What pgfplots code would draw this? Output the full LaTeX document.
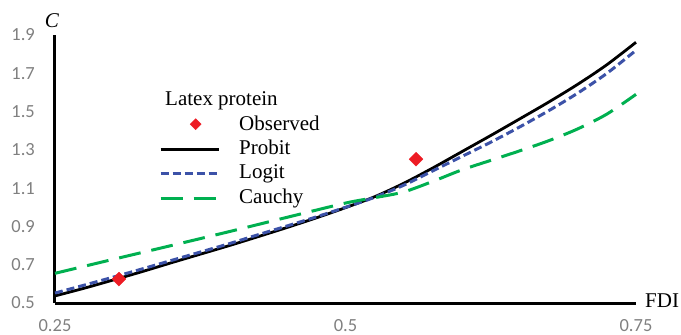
\documentclass[border=0pt]{standalone}
\usepackage{pgfplots}
\pgfplotsset{compat=1.18}
\usepackage{fontspec}
\setmainfont{Liberation Serif}
\newfontfamily\tickfont{Carlito}
\definecolor{tickgray}{RGB}{128,128,128}
\definecolor{obsred}{RGB}{237,28,36}
\definecolor{logitblue}{RGB}{60,82,168}
\definecolor{cauchygreen}{RGB}{0,176,80}

\begin{document}
\begin{tikzpicture}
\begin{axis}[
  at={(0pt,0pt)}, anchor=origin,
  scale only axis,
  width=581pt, height=268pt,
  xmin=0.25, xmax=0.75, ymin=0.5, ymax=1.9,
  axis lines=left,
  axis line style={line width=3pt, black, -},
  xtick={0.25,0.5,0.75},
  ytick={0.5,0.7,0.9,1.1,1.3,1.5,1.7,1.9},
  major tick length=0pt,
  /pgf/number format/assume math mode=true,
  ticklabel style={font=\tickfont\fontsize{18.5}{20}\selectfont, text=tickgray, inner sep=0pt},
  xticklabel style={anchor=north, yshift=-16.5pt},
  yticklabel style={anchor=east, xshift=-20pt},
  clip=false,
  legend style={draw=none, fill=none, inner sep=0pt,
    at={(axis cs:0.3395,1.482)}, anchor=north west,
    font=\fontsize{21}{23}\selectfont, row sep=4.3pt,
    nodes={inner sep=0pt, text height=15pt, text depth=5pt},
    /tikz/every odd column/.append style={column sep=19pt}},
  legend cell align=left,
  legend image code/.code={\draw[#1] (0pt,0pt) -- (58pt,0pt);},
]
\addplot[only marks, mark=square*, mark size=4.9pt, color=obsred,
  mark options={rotate=45},
  legend image code/.code={\path[draw=none] (0pt,0pt) -- (58pt,0pt);
    \path[draw=none, fill=obsred, mark=square*, mark options={rotate=45, draw=obsred, fill=obsred}, mark size=3.9pt]
      plot[only marks] coordinates {(35pt,1pt)};}]
  coordinates {(0.305,0.625) (0.5607,1.251)};
\addlegendentry{Observed}

\addplot[black, line width=2.8pt, smooth] table {
0.25 0.537
0.275 0.577
0.30 0.62
0.325 0.664
0.35 0.71
0.375 0.755
0.40 0.80
0.425 0.847
0.45 0.895
0.475 0.945
0.50 0.998
0.525 1.055
0.55 1.125
0.575 1.205
0.60 1.29
0.625 1.375
0.65 1.462
0.675 1.55
0.70 1.643
0.725 1.745
0.75 1.862
};
\addlegendentry{Probit}

\addplot[logitblue, line width=3pt, dash pattern=on 8pt off 4pt, smooth] table {
0.25 0.552
0.275 0.593
0.30 0.635
0.325 0.678
0.35 0.722
0.375 0.766
0.40 0.81
0.425 0.857
0.45 0.903
0.475 0.95
0.50 1.0
0.525 1.052
0.55 1.115
0.575 1.19
0.60 1.265
0.625 1.34
0.65 1.42
0.675 1.505
0.70 1.597
0.725 1.70
0.75 1.82
};
\addlegendentry{Logit}

\addplot[cauchygreen, line width=3pt, dash pattern=on 22pt off 11pt, smooth] table {
0.25 0.655
0.30 0.728
0.35 0.80
0.40 0.873
0.45 0.948
0.50 1.022
0.525 1.05
0.55 1.08
0.575 1.135
0.60 1.195
0.625 1.245
0.65 1.295
0.675 1.348
0.70 1.41
0.725 1.487
0.75 1.59
};
\addlegendentry{Cauchy}

% axis names and legend heading
\node[anchor=base, inner sep=0pt, font=\itshape\fontsize{21}{23}\selectfont]
  at (axis cs:0.25,1.9) [xshift=-3pt, yshift=7pt] {C};
\node[anchor=base west, inner sep=0pt, font=\fontsize{21}{23}\selectfont]
  at (axis cs:0.75,0.5) [xshift=9pt, yshift=-5pt] {FDI};
\node[anchor=base west, inner sep=0pt, font=\fontsize{21}{23}\selectfont]
  at (axis cs:0.25,0.5) [xshift=110pt, yshift=197pt] {Latex protein};
\end{axis}
\pgfresetboundingbox
\path[use as bounding box] (-55pt,-32pt) rectangle (626pt,303pt);
\end{tikzpicture}
\end{document}
